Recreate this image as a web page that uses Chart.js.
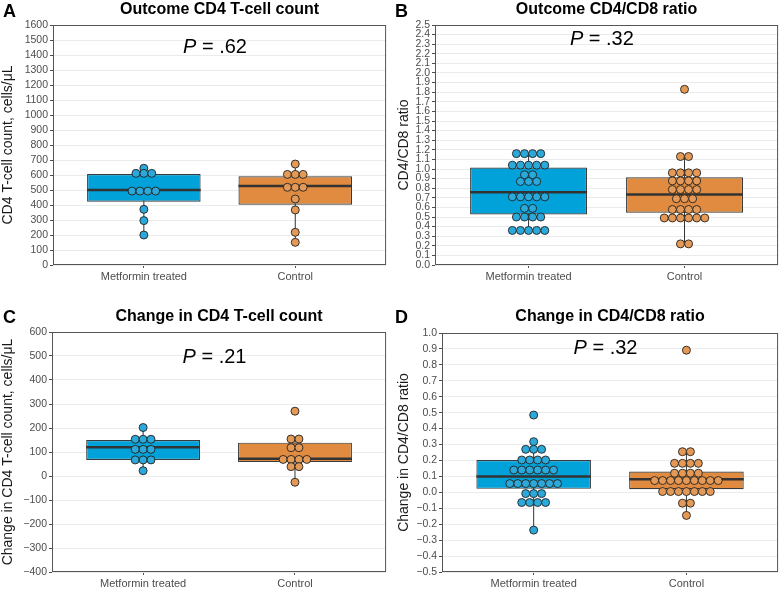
<!doctype html>
<html lang="en">
<head>
<meta charset="utf-8">
<title>Metformin and CD4 outcomes</title>
<script src="https://cdn.jsdelivr.net/npm/chart.js"></script>
<style>
  body { margin: 0; background: #fff; }
  canvas { position: absolute; }
</style>
</head>
<body>
<canvas id="chartA" width="391" height="294" style="left:0;top:0"></canvas>
<canvas id="chartB" width="391" height="294" style="left:392px;top:0"></canvas>
<canvas id="chartC" width="391" height="294" style="left:0;top:295px"></canvas>
<canvas id="chartD" width="391" height="294" style="left:392px;top:295px"></canvas>
<script>
const groups = ['Metformin treated', 'Control'];

// A: outcome CD4 count (cells/uL)
const cd4Met = [645, 611, 611, 611, 493, 493, 493, 493, 371, 296, 200];
const cd4Ctl = [673, 604, 604, 604, 518, 518, 518, 440, 367, 218, 151];
// whisker low, q1, median, q3, whisker high
const cd4MetBox = [200, 422, 500, 607, 645];
const cd4CtlBox = [151, 402, 527, 591, 673];

// B: outcome CD4/CD8 ratio
const ratioMet = [1.16, 1.16, 1.16, 1.16, 1.04, 1.04, 1.04, 1.04, 1.04, 0.94, 0.94,
  0.87, 0.87, 0.87, 0.71, 0.71, 0.71, 0.71, 0.71, 0.59, 0.59,
  0.50, 0.50, 0.50, 0.50, 0.36, 0.36, 0.36, 0.36, 0.36];
const ratioCtl = [1.83, 1.13, 1.13, 0.96, 0.96, 0.96, 0.96, 0.876, 0.876, 0.876, 0.876,
  0.786, 0.786, 0.786, 0.786, 0.69, 0.69, 0.69, 0.578, 0.578, 0.578, 0.578,
  0.49, 0.49, 0.49, 0.49, 0.49, 0.49, 0.22, 0.22];
const ratioMetBox = [0.36, 0.526, 0.758, 1.015, 1.16];
const ratioCtlBox = [0.22, 0.544, 0.734, 0.914, 1.13];

// C: change in CD4 count
const dCd4Met = [202, 153, 153, 153, 111, 111, 111, 67, 67, 67, 22];
const dCd4Ctl = [270, 154, 154, 118, 118, 69, 69, 69, 69, 39, 39, -26];
const dCd4MetBox = [22, 67, 120, 150, 202];
const dCd4CtlBox = [-26, 58, 72, 139, 154];

// D: change in CD4/CD8 ratio
const dRatioMet = [0.485, 0.318, 0.27, 0.27, 0.27, 0.203, 0.203, 0.203, 0.203,
  0.14, 0.14, 0.14, 0.14, 0.14, 0.14, 0.055, 0.055, 0.055, 0.055, 0.055, 0.055, 0.055,
  -0.008, -0.008, -0.008, -0.064, -0.064, -0.064, -0.064, -0.237];
const dRatioCtl = [0.892, 0.255, 0.255, 0.182, 0.182, 0.182, 0.182, 0.12, 0.12, 0.12, 0.12,
  0.074, 0.074, 0.074, 0.074, 0.074, 0.074, 0.074, 0.074, 0.074,
  0.005, 0.005, 0.005, 0.005, 0.005, 0.005, 0.005, -0.068, -0.068, -0.145];
const dRatioMetBox = [-0.237, 0.022, 0.099, 0.203, 0.318];
const dRatioCtlBox = [-0.145, 0.02, 0.082, 0.13, 0.255];

const pValues = ['.62', '.32', '.21', '.32'];

const boxFill = ['#00a2d9', '#e08b3f'];
const dotFill = ['#2aa9da', '#e49a56'];
const ink = '#333333';
const FONT = '"Liberation Sans", Arial, Helvetica, sans-serif';
const DOT_STEP = 0.052;
const BOX_HALF = 0.375;

function range(min, max, step) {
  const out = [];
  const n = Math.round((max - min) / step);
  for (let i = 0; i <= n; i++) out.push(+(min + i * step).toFixed(6));
  return out;
}

// center dots of equal value in one row (dotplot style)
function swarm(values, center) {
  const counts = {}, seen = {};
  values.forEach(v => counts[v] = (counts[v] || 0) + 1);
  return values.map(v => {
    seen[v] = seen[v] === undefined ? 0 : seen[v] + 1;
    return { x: center + (seen[v] - (counts[v] - 1) / 2) * DOT_STEP, y: v };
  });
}

const panelText = {
  id: 'panelText',
  afterDraw(chart, args, opts) {
    const { ctx, chartArea: a, scales } = chart;
    ctx.save();
    ctx.strokeStyle = '#555';
    ctx.lineWidth = 1;
    ctx.strokeRect(a.left + 0.5, a.top + 0.5, a.right - a.left - 1, a.bottom - a.top - 1);

    ctx.fillStyle = '#000';
    ctx.textBaseline = 'middle';
    ctx.textAlign = 'left';
    ctx.font = 'bold 18px ' + FONT;
    ctx.fillText(opts.letter, 3, opts.letterY);

    ctx.textAlign = 'center';
    ctx.font = 'bold 16px ' + FONT;
    ctx.fillText(opts.title, (a.left + a.right) / 2, opts.titleY);

    const px = scales.x.getPixelForValue(1.47);
    const py = scales.y.getPixelForValue(opts.pAt);
    const rest = ' = ' + opts.p;
    ctx.font = 'italic 20px ' + FONT;
    const w1 = ctx.measureText('P').width;
    ctx.font = '20px ' + FONT;
    const w2 = ctx.measureText(rest).width;
    const x0 = px - (w1 + w2) / 2;
    ctx.textAlign = 'left';
    ctx.font = 'italic 20px ' + FONT;
    ctx.fillText('P', x0, py);
    ctx.font = '20px ' + FONT;
    ctx.fillText(rest, x0 + w1, py);
    ctx.restore();
  }
};

function fmt(decimals) {
  return v => {
    const s = Math.abs(v).toFixed(decimals);
    return v < -1e-9 ? '\u2212' + s : s;
  };
}

function makePanel(id, p) {
  const [met, ctl] = p.values;
  const boxes = p.boxes;
  const datasets = [];

  // dots on top
  [met, ctl].forEach((vals, i) => {
    datasets.push({
      type: 'scatter', order: 0,
      data: swarm(vals, i + 1),
      pointRadius: 4, pointHoverRadius: 4,
      pointBorderWidth: 0.9, pointBorderColor: '#222',
      pointBackgroundColor: dotFill[i]
    });
  });
  // medians
  boxes.forEach((b, i) => {
    datasets.push({
      type: 'line', order: 1,
      data: [{ x: i + 1 - BOX_HALF, y: b[2] }, { x: i + 1 + BOX_HALF, y: b[2] }],
      borderColor: ink, borderWidth: 2.6, pointRadius: 0
    });
  });
  // boxes
  datasets.push({
    type: 'bar', order: 2,
    data: boxes.map((b, i) => ({ x: i + 1, y: [b[1], b[3]] })),
    backgroundColor: boxFill, borderColor: '#3a3a3a', borderWidth: 1.2,
    borderSkipped: false, barPercentage: 0.75, categoryPercentage: 1
  });
  // whiskers
  boxes.forEach((b, i) => {
    datasets.push({
      type: 'line', order: 3,
      data: [{ x: i + 1, y: b[0] }, { x: i + 1, y: b[4] }],
      borderColor: ink, borderWidth: 1, pointRadius: 0
    });
  });

  const yTicks = range(p.yMin, p.yMax, p.yStep);

  return new Chart(document.getElementById(id), {
    type: 'bar',
    data: { datasets },
    plugins: [panelText],
    options: {
      responsive: false,
      animation: false,
      layout: { padding: { top: p.pad[0], right: p.pad[1], bottom: 0, left: 0 } },
      plugins: {
        legend: { display: false },
        tooltip: { enabled: false },
        panelText: { letter: p.letter, title: p.title, p: p.p, pAt: p.pAt, titleY: p.titleY, letterY: p.letterY }
      },
      scales: {
        x: {
          type: 'linear', min: 0.4, max: 2.6, offset: false,
          afterBuildTicks: s => { s.ticks = [{ value: 1 }, { value: 2 }]; },
          afterFit: s => { s.height = p.xH; },
          ticks: {
            callback: v => groups[v - 1],
            color: '#4d4d4d', font: { family: FONT, size: 11 }, padding: 2,
            maxRotation: 0, autoSkip: false
          },
          grid: { drawOnChartArea: false, tickColor: '#4d4d4d', tickLength: 3, offset: false },
          border: { display: false }
        },
        y: {
          type: 'linear', min: p.yMin, max: p.yMax,
          afterBuildTicks: s => { s.ticks = yTicks.map(v => ({ value: v })); },
          afterFit: s => { s.width = p.yW; },
          ticks: {
            callback: fmt(p.decimals),
            color: '#4d4d4d', font: { family: FONT, size: 10.5 }, padding: 2,
            autoSkip: false
          },
          grid: { color: '#ebebeb', tickColor: '#4d4d4d', tickLength: 3 },
          border: { display: false },
          title: {
            display: true, text: p.yTitle, color: '#1a1a1a',
            font: { family: FONT, size: 14 }, padding: { top: p.titlePad, bottom: 0 }
          }
        }
      }
    }
  });
}

makePanel('chartA', {
  letter: 'A', title: 'Outcome CD4 T-cell count', yTitle: 'CD4 T-cell count, cells/\u03bcL',
  values: [cd4Met, cd4Ctl], boxes: [cd4MetBox, cd4CtlBox], p: pValues[0], pAt: 1450,
  yMin: 0, yMax: 1600, yStep: 100, decimals: 0,
  pad: [25, 3], yW: 53, xH: 29, titleY: 10, letterY: 12, titlePad: 0
});
makePanel('chartB', {
  letter: 'B', title: 'Outcome CD4/CD8 ratio', yTitle: 'CD4/CD8 ratio',
  values: [ratioMet, ratioCtl], boxes: [ratioMetBox, ratioCtlBox], p: pValues[1], pAt: 2.35,
  yMin: 0, yMax: 2.5, yStep: 0.1, decimals: 1,
  pad: [25, 4], yW: 43, xH: 29, titleY: 10, letterY: 12, titlePad: 4
});
makePanel('chartC', {
  letter: 'C', title: 'Change in CD4 T-cell count', yTitle: 'Change in CD4 T-cell count, cells/\u03bcL',
  values: [dCd4Met, dCd4Ctl], boxes: [dCd4MetBox, dCd4CtlBox], p: pValues[2], pAt: 494,
  yMin: -400, yMax: 600, yStep: 100, decimals: 0,
  pad: [37, 2], yW: 52, xH: 17, titleY: 22, letterY: 23, titlePad: 0
});
makePanel('chartD', {
  letter: 'D', title: 'Change in CD4/CD8 ratio', yTitle: 'Change in CD4/CD8 ratio',
  values: [dRatioMet, dRatioCtl], boxes: [dRatioMetBox, dRatioCtlBox], p: pValues[3], pAt: 0.9,
  yMin: -0.5, yMax: 1.0, yStep: 0.1, decimals: 1,
  pad: [38, 3], yW: 50, xH: 17, titleY: 22, letterY: 23, titlePad: 4
});
</script>
</body>
</html>
